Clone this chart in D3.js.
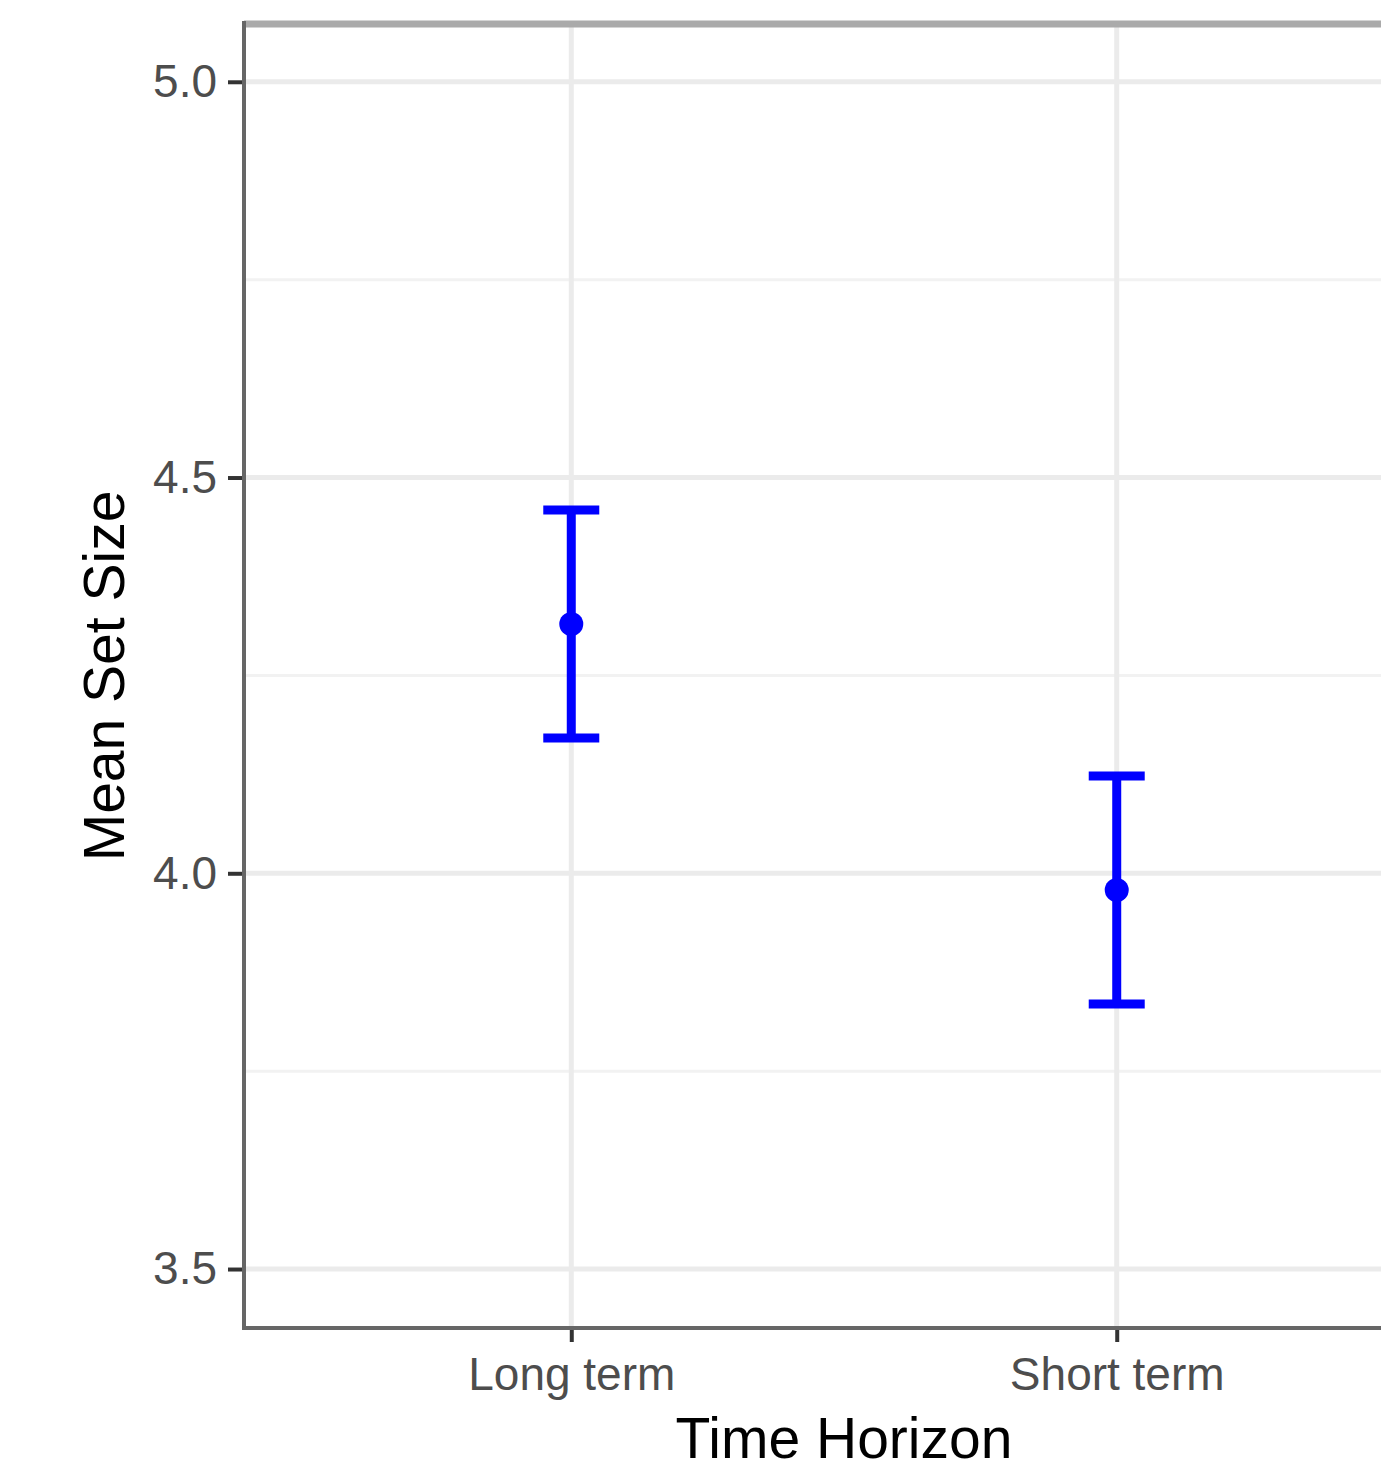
<!DOCTYPE html>
<html>
<head>
<meta charset="utf-8">
<script src="https://cdn.jsdelivr.net/npm/d3@7"></script>
<style>
  html, body { margin: 0; padding: 0; background: #fff; }
  svg { display: block; font-family: "Liberation Sans", Arial, sans-serif; }
</style>
</head>
<body>
<svg id="chart"></svg>
<script>
// mean set size by time horizon, with error bars
const categories = ["Long term", "Short term"];
const means = [4.315, 3.979];
const lower = [4.171, 3.835];
const upper = [4.459, 4.123];
const yTicks = [3.5, 4.0, 4.5, 5.0];
const yMinor = [3.75, 4.25, 4.75];

const width = 1381, height = 1472;
const svg = d3.select("#chart").attr("width", width).attr("height", height);

// panel runs past the right edge of the picture (it is cut off there)
const pLeft = 244, pRight = 1444, pTop = 24, pBottom = 1328;

// ggplot-ish discrete scale: 0.6 unit padding each side
const x = d3.scalePoint().domain(categories).range([pLeft, pRight]).padding(0.6);
const y = d3.scaleLinear().domain([3.4255, 5.073]).range([pBottom, pTop]);

// grid
const grid = svg.append("g");
grid.selectAll("line.minor").data(yMinor).enter().append("line")
  .attr("x1", pLeft).attr("x2", pRight)
  .attr("y1", d => y(d)).attr("y2", d => y(d))
  .attr("stroke", "#f2f2f2").attr("stroke-width", 3);
grid.selectAll("line.major").data(yTicks).enter().append("line")
  .attr("x1", pLeft).attr("x2", pRight)
  .attr("y1", d => y(d)).attr("y2", d => y(d))
  .attr("stroke", "#ebebeb").attr("stroke-width", 5);
grid.selectAll("line.vx").data(categories).enter().append("line")
  .attr("x1", d => x(d)).attr("x2", d => x(d))
  .attr("y1", pTop).attr("y2", pBottom)
  .attr("stroke", "#ebebeb").attr("stroke-width", 5);

// panel border
svg.append("line").attr("x1", pLeft).attr("x2", pRight).attr("y1", pTop).attr("y2", pTop)
  .attr("stroke", "#aaaaaa").attr("stroke-width", 7);
svg.append("line").attr("x1", pLeft).attr("x2", pLeft).attr("y1", pTop - 3).attr("y2", pBottom + 2)
  .attr("stroke", "#666666").attr("stroke-width", 4);
svg.append("line").attr("x1", pLeft).attr("x2", pRight).attr("y1", pBottom).attr("y2", pBottom)
  .attr("stroke", "#666666").attr("stroke-width", 4);

// axes
const yAxis = svg.append("g")
  .attr("transform", "translate(" + (pLeft - 2) + ",0)")
  .call(d3.axisLeft(y).tickValues(yTicks).tickFormat(d3.format(".1f")).tickSize(14).tickPadding(11));
const xAxis = svg.append("g")
  .attr("transform", "translate(0," + (pBottom + 2) + ")")
  .call(d3.axisBottom(x).tickSize(12).tickPadding(15));

[yAxis, xAxis].forEach(function (g) {
  g.select(".domain").remove();
  g.selectAll(".tick line").attr("stroke", "#333333").attr("stroke-width", 4);
  g.selectAll(".tick text")
    .attr("fill", "#4d4d4d")
    .style("font-size", "46px")
    .style("font-family", "'Liberation Sans', Arial, sans-serif");
});

// error bars
const bars = svg.append("g").attr("stroke", "#0000ff").attr("stroke-width", 9);
bars.selectAll("line.v").data(categories).enter().append("line")
  .attr("x1", d => x(d)).attr("x2", d => x(d))
  .attr("y1", (d, i) => y(upper[i])).attr("y2", (d, i) => y(lower[i]));
bars.selectAll("line.up").data(categories).enter().append("line")
  .attr("x1", d => x(d) - 28).attr("x2", d => x(d) + 28)
  .attr("y1", (d, i) => y(upper[i])).attr("y2", (d, i) => y(upper[i]));
bars.selectAll("line.lo").data(categories).enter().append("line")
  .attr("x1", d => x(d) - 28).attr("x2", d => x(d) + 28)
  .attr("y1", (d, i) => y(lower[i])).attr("y2", (d, i) => y(lower[i]));

svg.append("g").selectAll("circle").data(categories).enter().append("circle")
  .attr("cx", d => x(d)).attr("cy", (d, i) => y(means[i]))
  .attr("r", 12).attr("fill", "#0000ff");

// axis titles
svg.append("text")
  .attr("x", (pLeft + pRight) / 2).attr("y", 1458)
  .attr("text-anchor", "middle")
  .style("font-size", "57px").attr("fill", "#000")
  .text("Time Horizon");
svg.append("text")
  .attr("transform", "translate(124," + ((pTop + pBottom) / 2) + ") rotate(-90)")
  .attr("text-anchor", "middle")
  .style("font-size", "57px").attr("fill", "#000")
  .text("Mean Set Size");
</script>
</body>
</html>
